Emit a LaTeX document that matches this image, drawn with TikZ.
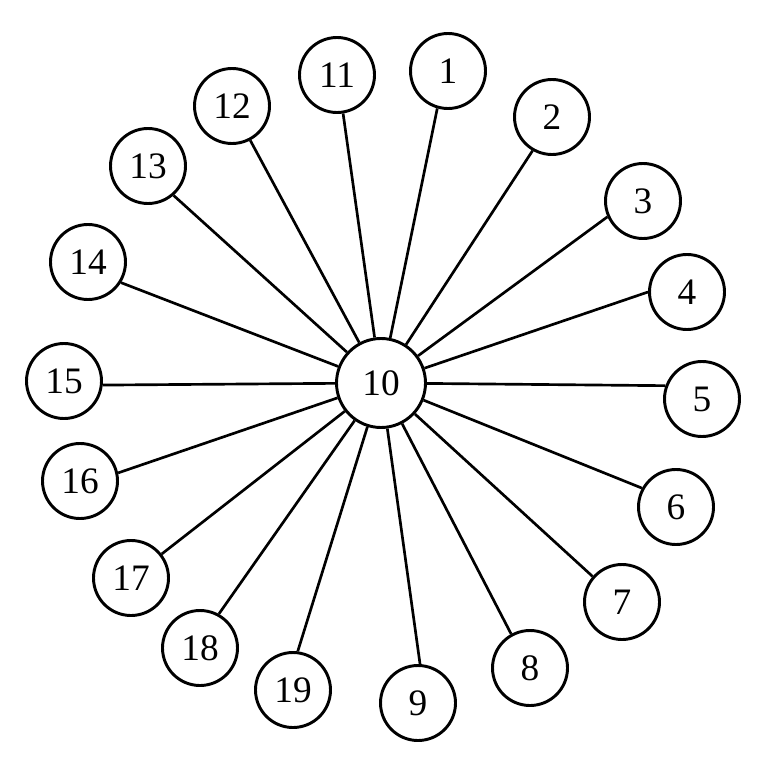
\documentclass[tikz,border=0pt]{standalone}
\usepackage{fontspec}
\setmainfont{Liberation Serif}
\begin{document}
\begin{tikzpicture}[x=0.75pt,y=0.75pt,yscale=-1,xscale=1,
  vertex/.style={circle,draw,line width=2.2pt,minimum size=75pt*0.75,inner sep=0pt,font=\fontsize{28}{32}\selectfont},
  hub/.style={vertex,minimum size=89pt*0.75},
  spoke/.style={line width=2pt}]
\useasboundingbox (0,0) rectangle (765,777);

% Center
\node [hub] (n10) at (381,383) {10};
% Outer vertices
\node [vertex] (n1) at (448,71) {1};
\node [vertex] (n2) at (552,117) {2};
\node [vertex] (n3) at (643,201) {3};
\node [vertex] (n4) at (687,292) {4};
\node [vertex] (n5) at (702,399) {5};
\node [vertex] (n6) at (676,507) {6};
\node [vertex] (n7) at (622,602) {7};
\node [vertex] (n8) at (530,668) {8};
\node [vertex] (n9) at (418,703) {9};
\node [vertex] (n19) at (293,690) {19};
\node [vertex] (n18) at (200,648) {18};
\node [vertex] (n17) at (131,578) {17};
\node [vertex] (n16) at (80,481) {16};
\node [vertex] (n15) at (64,381) {15};
\node [vertex] (n14) at (88,262) {14};
\node [vertex] (n13) at (148,166) {13};
\node [vertex] (n12) at (232,106) {12};
\node [vertex] (n11) at (337,75) {11};

% Spokes (node/angle where the spoke meets it)
\foreach \i/\a in {1/254,2/240,3/204,4/180,5/160,6/151,7/139,8/119,9/87,
                   19/83,18/61,17/38,16/12,15/354,14/328,13/311,12/298,11/279}
  \draw [spoke] (n10) -- (n\i.\a);

\end{tikzpicture}
\end{document}
